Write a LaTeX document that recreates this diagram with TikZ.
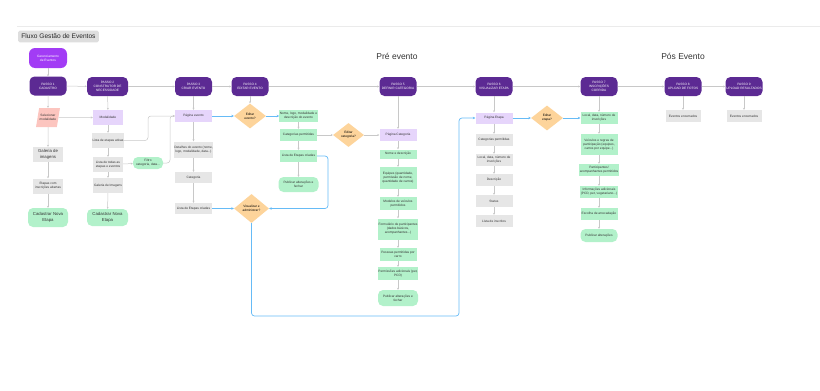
\documentclass[tikz,border=0pt]{standalone}
\usepackage{fontspec}
\setmainfont{Liberation Sans}
\usetikzlibrary{shapes.geometric,arrows.meta}

\definecolor{roxoescuro}{HTML}{5C2A93}
\definecolor{roxovivo}{HTML}{A23CF5}
\definecolor{lilas}{HTML}{E6D5FB}
\definecolor{cinzacampo}{HTML}{E6E6E6}
\definecolor{verdecampo}{HTML}{B2F1CA}
\definecolor{salmao}{HTML}{FCC5BF}
\definecolor{laranja}{HTML}{FDD49B}
\definecolor{azulfluxo}{HTML}{66BBF6}
\definecolor{cinzaseta}{HTML}{C8C8C8}

\newcommand{\mini}{\fontsize{3.2}{3.9}\selectfont}
\newcommand{\medio}{\fontsize{4.3}{5.4}\selectfont}

\tikzset{
  caixa/.style={rectangle, minimum width=37, minimum height=12, inner sep=0.5pt,
    align=center, font=\mini, text=black!80},
  passo/.style={caixa, rounded corners=5pt, fill=roxoescuro, text=white, minimum height=19},
  tela/.style={caixa, fill=lilas},
  campo/.style={caixa, fill=cinzacampo},
  verde/.style={caixa, fill=verdecampo},
  fecho/.style={caixa, fill=verdecampo, rounded corners=5pt, minimum width=40, minimum height=15},
  decisao/.style={diamond, fill=laranja, inner sep=0pt, align=center, font=\mini,
    minimum width=32, minimum height=25},
  seta/.style={draw=cinzaseta, line width=0.5pt, -{Stealth[length=2pt,width=2pt]}},
  fluxo/.style={draw=azulfluxo, line width=0.7pt, rounded corners=3pt,
    -{Stealth[length=2.5pt,width=2.5pt]}},
}

\begin{document}
\begin{tikzpicture}[x=1pt, y=-1pt]
  \useasboundingbox (0,0) rectangle (820,391);
  \draw[black!8, line width=0.6pt] (17,26) -- (820,26);

  % titulo e fases
  \node[fill=black!13, rounded corners=1.5pt, minimum width=77, minimum height=11,
        font=\fontsize{6.6}{7}\selectfont, text=black!85] (titulo) at (58.5,36.5) {Fluxo Gestão de Eventos};
  \node[font=\fontsize{8.5}{10}\selectfont, text=black!80] (pre) at (397,56) {Pré evento};
  \node[font=\fontsize{8.5}{10}\selectfont, text=black!80] (pos) at (683,56) {Pós Evento};

  % inicio e passos
  \node[caixa, fill=roxovivo, text=white, rounded corners=6pt, minimum width=38, minimum height=20]
        (inicio) at (48,58) {Gerenciamento\\de Eventos};
  \node[passo] (p1) at (48,86) {PASSO 1\\CADASTRO};
  \node[passo, minimum width=41] (p2) at (107.5,86.5) {PASSO 2\\CONSTRUTOR DE\\NECESSIDADE};
  \node[passo] (p3) at (193.5,86.5) {PASSO 3\\CRIAR EVENTO};
  \node[passo] (p4) at (250,86.5) {PASSO 4\\EDITAR EVENTO};
  \node[passo] (p5) at (398,86.5) {PASSO 5\\DEFINIR CATEGORIA};
  \node[passo] (p6) at (494,86.5) {PASSO 6\\VISUALIZAR ETAPA};
  \node[passo] (p7) at (599,86.5) {PASSO 7\\INSCRIÇÕES\\CORRIDA};
  \node[passo] (p8) at (683,86.5) {PASSO 8\\UPLOAD DE FOTOS};
  \node[passo] (p9) at (744,86.5) {PASSO 9\\UPLOAD RESULTADOS};

  % passo 1
  \node[trapezium, trapezium left angle=65, trapezium right angle=115, fill=salmao,
        minimum width=24, minimum height=19, inner sep=0pt, align=center, font=\mini,
        text=black!80, trapezium stretches=true] (selecionar) at (48,117.5) {Selecionar\\modalidade};
  \node[campo, minimum width=30, minimum height=15, font=\medio] (galeria1) at (48,154.5) {Galeria de\\imagens};
  \node[campo, minimum width=30, minimum height=15] (abertas) at (48,186) {Etapas com\\inscrições abertas};
  \node[fecho, minimum height=19, font=\medio] (cadastrar1) at (48,217.5) {Cadastrar Nova\\Etapa};

  % passo 2
  \node[tela, minimum width=30, minimum height=15] (modalidade) at (108,117.5) {Modalidade};
  \node[campo, minimum width=30, minimum height=15] (ativas) at (108,140.5) {Lista de etapas ativas};
  \node[campo, minimum width=30, minimum height=15] (todas) at (108,164.5) {Lista de todas as\\etapas e eventos};
  \node[campo, minimum width=30, minimum height=15] (galeria2) at (108,185.5) {Galeria de Imagens};
  \node[fecho, minimum width=41, minimum height=17, font=\medio] (cadastrar2) at (107.5,217.5) {Cadastrar Nova\\Etapa};
  \node[fecho, minimum width=30, minimum height=12] (filtro) at (148,163) {Filtro\\categoria, data...};

  % passo 3
  \node[tela] (paginaevento) at (193.5,116) {Página evento};
  \node[campo, minimum height=16] (detalhes) at (193.5,149.5) {Detalhes do evento (nome,\\logo, modalidade, data...)};
  \node[campo, minimum height=11] (categoria) at (193.5,177.5) {Categoria};
  \node[campo, minimum height=11] (criadas) at (193.5,208.5) {Lista de Etapas criadas};

  % passo 4
  \node[decisao] (editarevento) at (250,116) {Editar\\evento?};
  \node[decisao, minimum width=35, minimum height=29] (visualizar) at (251.5,208.5) {Visualizar e\\administrar?};
  \node[verde] (nomelogo) at (298.5,116) {Nome, logo, modalidade e\\descrição do evento};
  \node[verde] (permitidas) at (298.5,135) {Categorias permitidas};
  \node[verde] (criadasv) at (298.5,156) {Lista de Etapas criadas};
  \node[fecho] (publicar4) at (298.5,184.5) {Publicar alterações e\\fechar};
  \node[decisao, minimum width=31, minimum height=24] (editarcat) at (348.5,135) {Editar\\categoria?};

  % passo 5
  \node[tela] (paginacat) at (398,135) {Página Categoria};
  \node[verde, minimum height=9] (nomedesc) at (398,154) {Nome e descrição};
  \node[verde, minimum height=22] (equipes) at (398,178) {Equipes (quantidade,\\permissão de nome,\\quantidade de carros)};
  \node[verde, minimum height=13] (modelos) at (398,203.5) {Modelos de veículos\\permitidos};
  \node[verde, minimum height=21] (formulario) at (398,229) {Formulário de participantes\\(dados básicos,\\acompanhantes...)};
  \node[verde, minimum height=13] (pessoas) at (398,254.5) {Pessoas permitidas por\\carro};
  \node[verde, minimum height=13] (adicionais) at (398,273.5) {Permissões adicionais (pet,\\PCD)};
  \node[fecho, minimum height=16] (publicar5) at (398,298) {Publicar alterações e\\fechar};

  % passo 6
  \node[tela, minimum height=11] (paginaetapa) at (494,118) {Página Etapa};
  \node[campo] (catetapa) at (494,140) {Categorias permitidas};
  \node[campo] (local) at (494,160) {Local, data, número de\\inscrições};
  \node[campo] (descricao) at (494,180) {Descrição};
  \node[campo] (status) at (494,201) {Status};
  \node[campo] (inscritos) at (494,221) {Lista de inscritos};
  \node[decisao] (editaretapa) at (547,118) {Editar\\etapa?};

  % passo 7
  \node[verde] (localv) at (599,118) {Local, data, número de\\inscrições};
  \node[verde, minimum height=21] (veiculos) at (599,144.5) {Veículos e regras de\\participação (equipes,\\carros por equipe...)};
  \node[verde] (participantes) at (599,170) {Participantes/\\acompanhantes permitidos};
  \node[verde] (informacoes) at (599,192) {Informações adicionais\\(PCD, pet, vegetariano...)};
  \node[verde] (arrecadacao) at (599,214) {Escolha de arrecadação};
  \node[fecho, minimum width=37, minimum height=13] (publicar7) at (599,235.5) {Publicar alterações};

  % passos 8 e 9
  \node[campo, minimum width=35] (encerrados8) at (683,116) {Eventos encerrados};
  \node[campo, minimum width=35] (encerrados9) at (744,116) {Eventos encerrados};

  % setas cinzas
  \draw[seta] (inicio) -- (p1);
  \foreach \a/\b in {p1/p2, p2/p3, p3/p4, p4/p5, p5/p6, p6/p7, p7/p8, p8/p9}
    \draw[seta] (\a) -- (\b);
  \foreach \a/\b in {p1/selecionar, selecionar/galeria1, galeria1/abertas, abertas/cadastrar1,
                     p2/modalidade, modalidade/ativas, ativas/todas, todas/galeria2, galeria2/cadastrar2,
                     p3/paginaevento, paginaevento/detalhes, detalhes/categoria, categoria/criadas,
                     p4/editarevento, nomelogo/permitidas, permitidas/criadasv, criadasv/publicar4,
                     p5/paginacat, paginacat/nomedesc, nomedesc/equipes, equipes/modelos,
                     modelos/formulario, formulario/pessoas, pessoas/adicionais, adicionais/publicar5,
                     p6/paginaetapa, paginaetapa/catetapa, catetapa/local, local/descricao,
                     descricao/status, status/inscritos,
                     p7/localv, localv/veiculos, veiculos/participantes, participantes/informacoes,
                     informacoes/arrecadacao, arrecadacao/publicar7,
                     p8/encerrados8, p9/encerrados9}
    \draw[seta] (\a) -- (\b);
  \draw[seta] (selecionar) -- (modalidade);
  \draw[seta] (todas) -- (filtro);
  \draw[seta] (permitidas) -- (editarcat);
  \draw[seta] (editarcat) -- (paginacat);
  \draw[seta, rounded corners=3pt] (ativas.east) -| (148,124) |- (paginaevento.west);
  \draw[seta, rounded corners=3pt] (filtro.east) -| (170,124) |- (paginaevento.west);

  % fluxos azuis
  \draw[fluxo] (paginaevento) -- (editarevento);
  \draw[fluxo] (editarevento) -- (nomelogo);
  \draw[fluxo] (criadas) -- (visualizar);
  \draw[fluxo] (criadasv.east) -| (328,180) |- (visualizar.east);
  \draw[fluxo] (visualizar.south) |- (459,316) |- (paginaetapa.west);
  \draw[fluxo] (paginaetapa) -- (editaretapa);
  \draw[fluxo] (editaretapa) -- (localv);
\end{tikzpicture}
\end{document}
